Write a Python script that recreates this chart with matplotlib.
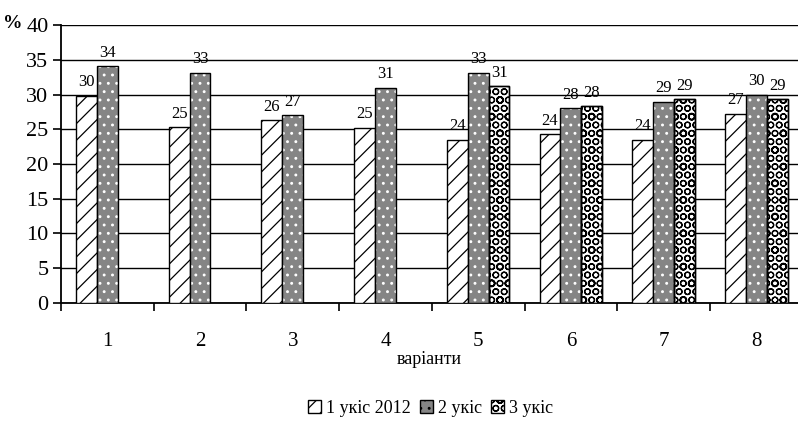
import numpy as np
import matplotlib
matplotlib.use("Agg")
import matplotlib.pyplot as plt

plt.rcParams['font.family'] = ['Liberation Serif', 'DejaVu Serif']
plt.rcParams['hatch.linewidth'] = 0.9

variants = [1, 2, 3, 4, 5, 6, 7, 8]
cut1 = [29.8, 25.3, 26.3, 25.2, 23.5, 24.3, 23.5, 27.2]
cut2 = [34.1, 33.1, 27.0, 31.0, 33.1, 28.0, 29.0, 30.0]
cut3 = [np.nan, np.nan, np.nan, np.nan, 31.2, 28.3, 29.3, 29.3]
names = ['1 укіс 2012', '2 укіс', '3 укіс']

fig = plt.figure(figsize=(7.98, 4.26), dpi=100)
ax = fig.add_axes([0.0764, 0.289, 0.9236, 0.652])

x = np.array(variants, dtype=float)
w = 0.225

# 1st cut: white with diagonal pattern
ax.bar(x - w, cut1, w, facecolor='white', edgecolor='black', hatch='//', lw=1, zorder=3)
# 2nd cut: gray with light dots
ax.bar(x, cut2, w, facecolor='#858585', edgecolor='white', hatch='..', lw=0, zorder=3)
ax.bar(x, cut2, w, facecolor='none', edgecolor='black', lw=1, zorder=4)
# 3rd cut: black circles
ax.bar(x + w, cut3, w, facecolor='white', edgecolor='black', hatch='OOo', lw=1, zorder=3)
ax.bar(x + w, cut3, w, facecolor='none', edgecolor='black', lw=1, zorder=4)

for off, vals in [(-w, cut1), (0, cut2), (w, cut3)]:
    for xi, v in zip(x, vals):
        if np.isnan(v):
            continue
        ax.annotate(str(int(round(v))), (xi + off, v), xytext=(0, 4), textcoords='offset points',
                    ha='center', va='bottom', fontsize=12)

ax.set_ylim(0, 40)
ax.set_yticks(range(0, 41, 5))
ax.set_xlim(0.5, 8.45)
ax.yaxis.grid(True, color='black', lw=1.0, zorder=0)
ax.set_axisbelow(True)
for s in ['top', 'right']:
    ax.spines[s].set_visible(False)
ax.spines['left'].set_linewidth(1.3)
ax.spines['bottom'].set_linewidth(1.3)

ax.set_xticks(x)
ax.set_xticklabels([str(v) for v in variants])
ax.tick_params(axis='x', which='major', length=0, pad=21, labelsize=15)
ax.set_xticks(np.arange(0.5, 8.5, 1), minor=True)
ax.tick_params(axis='x', which='minor', length=6, width=1.2, direction='out')
ax.tick_params(axis='y', length=6, width=1.2, labelsize=16, pad=3)
ax.set_xlabel('варіанти', fontsize=13, labelpad=0)

fig.text(0.004, 0.935, '%', fontsize=14, fontweight='bold')

h1 = plt.Rectangle((0, 0), 1, 1, facecolor='white', edgecolor='black', hatch='//')
h2 = plt.Rectangle((0, 0), 1, 1, facecolor='#858585', edgecolor='black', hatch='..')
h3 = plt.Rectangle((0, 0), 1, 1, facecolor='white', edgecolor='black', hatch='OOo')
fig.legend([h1, h2, h3], names, loc='center', bbox_to_anchor=(0.54, 0.042), ncol=3, frameon=False,
           fontsize=13, handlelength=0.7, handleheight=0.7, handletextpad=0.3, columnspacing=0.5)

fig.savefig('out.png', dpi=100)
